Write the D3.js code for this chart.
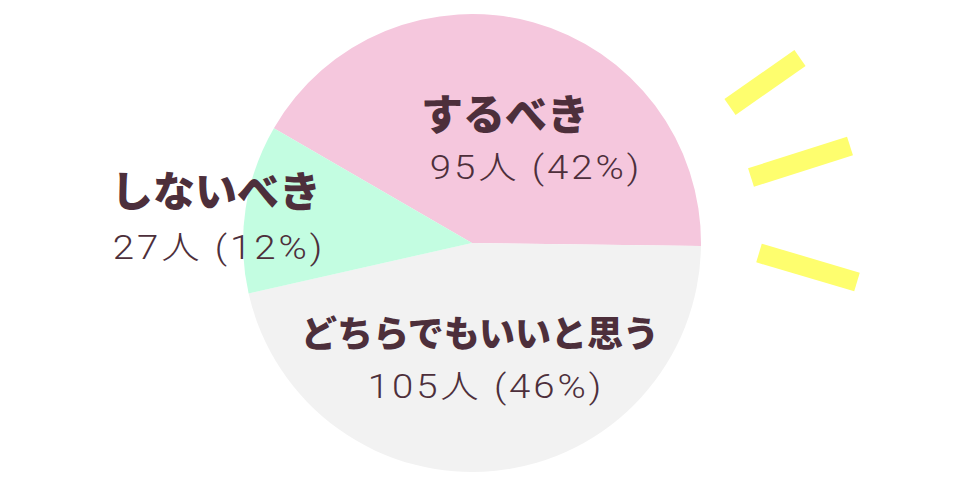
<!DOCTYPE html>
<html><head><meta charset="utf-8">
<script src="https://cdn.jsdelivr.net/npm/d3@7"></script>
<style>
html,body{margin:0;padding:0;background:#fff;}
svg{display:block;}
</style></head>
<body>
<svg id="chart" width="973" height="485"></svg>
<script>
// data
const categories = ["するべき", "どちらでもいいと思う", "しないべき"];
const counts = [95, 105, 27];
const percents = [42, 46, 12];
const colors = ["#f5c7dd", "#f2f2f2", "#c3fde1"];

// layout (not data)
const W = 973, H = 485;
const cx = 472, cy = 243, R = 229;
const startDeg = -59.9;
const labelPos = [
  {nameX: 505, nameY: 130, nameSize: 42, valX: 536, valY: 179},
  {nameX: 480, nameY: 347, nameSize: 36, valX: 486, valY: 398},
  {nameX: 216, nameY: 207, nameSize: 42, valX: 219, valY: 259}
];
const rays = [
  [[730, 107], [800, 58]],
  [[751, 177.5], [850, 146]],
  [[759, 253], [857, 282]]
];

const svg = d3.select("#chart");
const g = svg.append("g").attr("transform", `translate(${cx},${cy})`);

const data = categories.map((c, i) => ({name: c, value: counts[i], pct: percents[i], color: colors[i]}));
const pie = d3.pie().value(d => d.value).sort(null)
  .startAngle(startDeg * Math.PI / 180)
  .endAngle(startDeg * Math.PI / 180 + 2 * Math.PI);
const arc = d3.arc().innerRadius(0).outerRadius(R);

g.selectAll("path.slice").data(pie(data)).join("path")
  .attr("class", "slice")
  .attr("d", arc)
  .attr("fill", d => d.data.color);

// decorative rays
svg.selectAll("line.ray").data(rays).join("line")
  .attr("class", "ray")
  .attr("x1", d => d[0][0]).attr("y1", d => d[0][1])
  .attr("x2", d => d[1][0]).attr("y2", d => d[1][1])
  .attr("stroke", "#fefe6e").attr("stroke-width", 19.5);

const textColor = "#4d2f3b";
data.forEach((d, i) => {
  const p = labelPos[i];
  svg.append("text")
    .attr("x", p.nameX).attr("y", p.nameY)
    .attr("text-anchor", "middle")
    .attr("font-family", "'Noto Sans CJK JP', sans-serif")
    .attr("font-weight", 900)
    .attr("font-size", p.nameSize)
    .attr("fill", textColor)
    .text(d.name);
  svg.append("text")
    .attr("transform", `translate(${p.valX},${p.valY}) scale(1.18,1)`)
    .attr("text-anchor", "middle")
    .attr("font-family", "Roboto, 'Noto Sans CJK JP', sans-serif")
    .attr("font-weight", 300)
    .attr("font-size", 32.5)
    .attr("letter-spacing", 2.5)
    .attr("fill", textColor)
    .text(`${d.value}人 (${d.pct}%)`);
});
</script>
</body></html>
